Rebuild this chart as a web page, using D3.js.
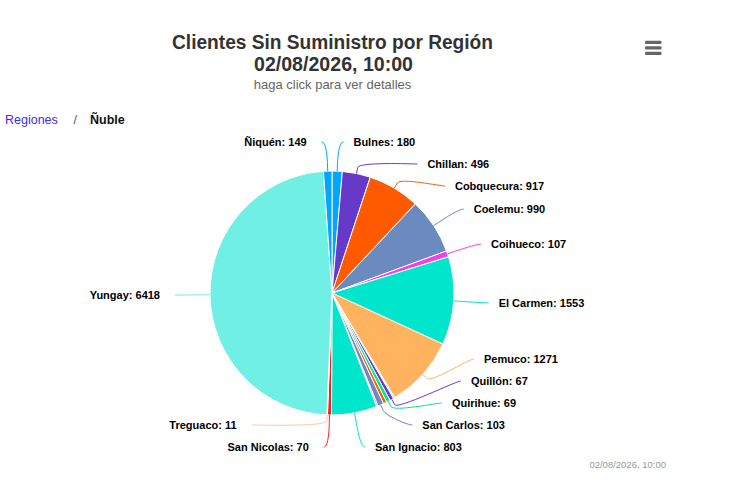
<!DOCTYPE html>
<html>
<head>
<meta charset="utf-8">
<script src="https://cdn.jsdelivr.net/npm/d3@7"></script>
<style>
  body { margin: 0; background: #fff; }
  text { font-family: Helvetica, Arial, "Liberation Sans", sans-serif; }
</style>
</head>
<body>
<svg id="chart" width="735" height="495"></svg>
<script>
// slices in drawing order (clockwise from the top); null = sliver whose label is hidden
var comunas = ["Bulnes", "Chillan", "Cobquecura", "Coelemu", "Coihueco", "El Carmen", "Pemuco",
    null, "Quillón", "Quirihue", null, "San Carlos", null, "San Ignacio", "San Nicolas",
    "Treguaco", "Yungay", "Ñiquén"];
var clientes = [180, 496, 917, 990, 107, 1553, 1271, 25, 67, 69, 60, 103, 25, 803, 70, 11, 6418, 149];
var colores = ["#00a6ff", "#6639c8", "#ff5a00", "#6b8ac0", "#f23ef2", "#00e6cc", "#ffb35e",
    "#70eee4", "#6639d4", "#00e68a", "#ff5a00", "#6b8ac0", "#f23ef2", "#00e6cc", "#ff1a1a",
    "#ffcc99", "#70efe4", "#00a6ff"];
var titulo = ["Clientes Sin Suministro por Región", "02/08/2026, 10:00"];
var subtitulo = "haga click para ver detalles";
var migas = ["Regiones", "Ñuble"];
var credito = "02/08/2026, 10:00";

var cx = 332, cy = 293, r = 122;
var labelDistance = 30;
var R = r + labelDistance;
var boxSize = 22, bandTop = 131, bandBottom = 458;

var svg = d3.select("#chart");
svg.append("rect").attr("width", 735).attr("height", 495).attr("fill", "#fff");

// titles
var title = svg.append("text")
    .attr("text-anchor", "middle")
    .attr("fill", "#333")
    .attr("font-size", 19.5)
    .attr("font-weight", "bold");
title.append("tspan").attr("x", 332.5).attr("y", 48.5)
    .attr("textLength", 321).attr("lengthAdjust", "spacingAndGlyphs").text(titulo[0]);
title.append("tspan").attr("x", 333.5).attr("y", 70.5)
    .attr("textLength", 159).attr("lengthAdjust", "spacingAndGlyphs").text(titulo[1]);

svg.append("text")
    .attr("x", 332.5).attr("y", 88.5)
    .attr("text-anchor", "middle")
    .attr("fill", "#666")
    .attr("font-size", 13)
    .text(subtitulo);

// export menu icon
svg.append("g").selectAll("rect")
    .data([42.3, 47.8, 53.2])
    .enter().append("rect")
    .attr("x", 645).attr("y", function (d) { return d - 1.5; })
    .attr("width", 16.5).attr("height", 3.2).attr("rx", 1)
    .attr("fill", "#666");

// breadcrumbs
svg.append("text").attr("x", 5).attr("y", 124)
    .attr("font-size", 12.5).attr("fill", "#3d2bff").text(migas[0]);
svg.append("text").attr("x", 73.5).attr("y", 124)
    .attr("font-size", 12.5).attr("fill", "#555").text("/");
svg.append("text").attr("x", 90).attr("y", 124)
    .attr("font-size", 12.5).attr("font-weight", "bold").attr("fill", "#111").text(migas[1]);

// credits
svg.append("text").attr("x", 666).attr("y", 468)
    .attr("text-anchor", "end").attr("font-size", 9.5).attr("fill", "#999")
    .text(credito);

// pie
var slices = comunas.map(function (name, i) {
    return { name: name, value: clientes[i], color: colores[i] };
});
var pie = d3.pie().sort(null).value(function (d) { return d.value; });
var arcs = pie(slices);
var arc = d3.arc().innerRadius(0).outerRadius(r);

var g = svg.append("g").attr("transform", "translate(" + cx + "," + cy + ")");
g.selectAll("path")
    .data(arcs)
    .enter().append("path")
    .attr("d", arc)
    .attr("fill", function (d) { return d.data.color; })
    .attr("stroke", "#fff")
    .attr("stroke-width", 1)
    .attr("stroke-linejoin", "round");

function polar(a, rad) {
    return [cx + rad * Math.sin(a), cy - rad * Math.cos(a)];
}

// label placement, spread on each side so labels don't overlap
var labels = arcs.filter(function (d) { return d.data.name; }).map(function (d) {
    var a = (d.startAngle + d.endAngle) / 2;
    var nat = polar(a, R);
    return { d: d, angle: a, left: a > Math.PI, natY: nat[1] };
});

function distribute(items) {
    items.sort(function (p, q) { return p.natY - q.natY; });
    var groups = items.map(function (it) {
        return { targets: [it.natY], size: boxSize, items: [it] };
    });
    var overlapping = true;
    while (overlapping) {
        groups.forEach(function (gr) {
            var mid = (d3.min(gr.targets) + d3.max(gr.targets)) / 2;
            gr.pos = Math.max(bandTop, Math.min(mid - gr.size / 2, bandBottom - gr.size));
        });
        overlapping = false;
        for (var i = groups.length - 1; i > 0; i--) {
            if (groups[i - 1].pos + groups[i - 1].size > groups[i].pos) {
                groups[i - 1].size += groups[i].size;
                groups[i - 1].targets = groups[i - 1].targets.concat(groups[i].targets);
                groups[i - 1].items = groups[i - 1].items.concat(groups[i].items);
                groups.splice(i, 1);
                overlapping = true;
            }
        }
    }
    groups.forEach(function (gr) {
        var p = gr.pos;
        gr.items.forEach(function (it) {
            it.boxPos = p;
            it.y = p + boxSize / 2;
            p += boxSize;
        });
    });
}
distribute(labels.filter(function (l) { return !l.left; }));
distribute(labels.filter(function (l) { return l.left; }));

labels.forEach(function (l) {
    var atEdge = l.boxPos <= bandTop + 1 || l.boxPos + boxSize >= bandBottom - 1;
    var yy = atEdge ? l.natY : l.y;
    var dy = Math.max(-R, Math.min(R, yy - cy));
    var dx = Math.sqrt(R * R - dy * dy) + 5;
    l.x = l.left ? cx - dx : cx + dx;
});

var lab = svg.append("g");
labels.forEach(function (l) {
    var t = polar(l.angle, r);
    var b = polar(l.angle, r + 6);
    var side = l.left ? 1 : -1;
    var path = "M" + l.x + "," + l.y +
        "C" + (l.x + side * 5) + "," + l.y + " " +
        (2 * b[0] - t[0]) + "," + (2 * b[1] - t[1]) + " " +
        b[0] + "," + b[1] +
        "L" + t[0] + "," + t[1];
    lab.append("path")
        .attr("d", path)
        .attr("fill", "none")
        .attr("stroke", l.d.data.color)
        .attr("stroke-width", 1);
    lab.append("text")
        .attr("x", l.left ? l.x - 15 : l.x + 10)
        .attr("y", l.y)
        .attr("dy", "0.35em")
        .attr("text-anchor", l.left ? "end" : "start")
        .attr("font-size", 11)
        .attr("font-weight", "bold")
        .attr("fill", "#000")
        .text(l.d.data.name + ": " + l.d.data.value);
});
</script>
</body>
</html>
